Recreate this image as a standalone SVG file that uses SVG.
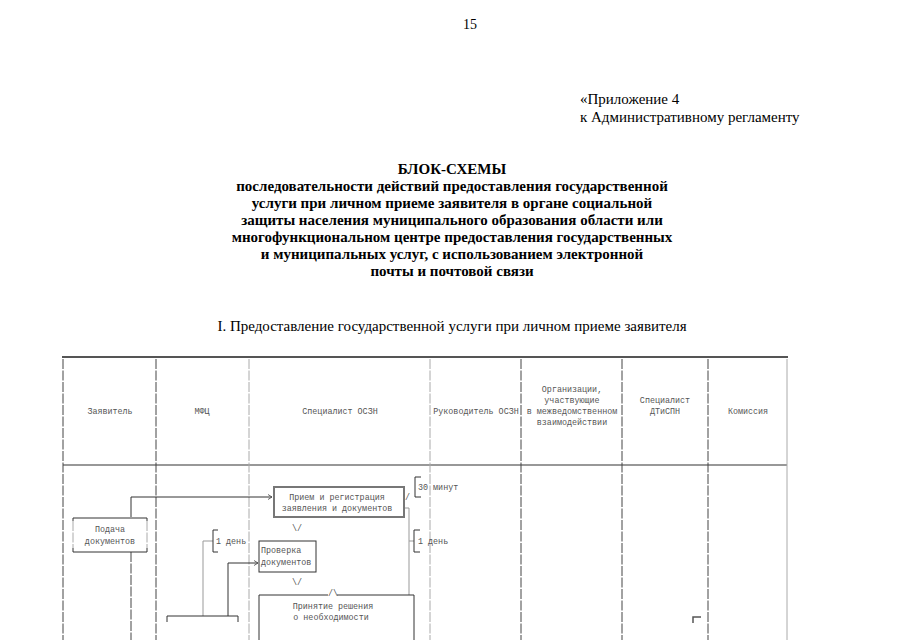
<svg xmlns="http://www.w3.org/2000/svg" width="905" height="640" viewBox="0 0 905 640">
<defs>
<style>
.serif{font-family:"Liberation Serif","Times New Roman",serif;fill:#000}
.t{font-family:"Liberation Serif","Times New Roman",serif;font-weight:bold;font-size:15px;text-anchor:middle;fill:#000}
.m{font-family:"Liberation Mono","Courier New",monospace;font-size:8.4px;fill:#555}
.mc{font-family:"Liberation Mono","Courier New",monospace;font-size:8.4px;fill:#555;text-anchor:middle}
.cd{stroke:#444;stroke-width:1;stroke-dasharray:10 1.5;fill:none}
.cl{stroke:#aaa;stroke-width:1;stroke-dasharray:10 1.5;fill:none}
.ln{stroke:#333;stroke-width:1;fill:none}
.lg{stroke:#999;stroke-width:1;fill:none}
.bx{stroke:#333;stroke-width:1;fill:none}
.bxg{stroke:#777;stroke-width:2;fill:none}
</style>
<marker id="ah" markerWidth="6" markerHeight="6" refX="5" refY="3" orient="auto" markerUnits="userSpaceOnUse">
<path d="M1,0.5 L5,3 L1,5.5" fill="none" stroke="#444" stroke-width="0.8"/>
</marker>
</defs>
<rect width="905" height="640" fill="#fff"/>

<text class="serif" x="470" y="29" font-size="14" text-anchor="middle">15</text>
<text class="serif" x="580" y="104" font-size="15">«Приложение 4</text>
<text class="serif" x="580" y="122" font-size="15">к Административному регламенту</text>

<text class="t" x="452" y="174">БЛОК-СХЕМЫ</text>
<text class="t" x="452" y="191">последовательности действий предоставления государственной</text>
<text class="t" x="452" y="208">услуги при личном приеме заявителя в органе социальной</text>
<text class="t" x="452" y="225">защиты населения муниципального образования области или</text>
<text class="t" x="452" y="242">многофункциональном центре предоставления государственных</text>
<text class="t" x="452" y="259">и муниципальных услуг, с использованием электронной</text>
<text class="t" x="452" y="276">почты и почтовой связи</text>

<text class="serif" x="452" y="331" font-size="15" text-anchor="middle">I. Предоставление государственной услуги при личном приеме заявителя</text>

<g id="table">
<line x1="62" y1="357" x2="788" y2="357" stroke="#555" stroke-width="2"/>
<line x1="63" y1="465" x2="787" y2="465" stroke="#333" stroke-width="1.2"/>
<line class="cd" x1="63" y1="359" x2="63" y2="640"/>
<line class="cd" x1="156" y1="359" x2="156" y2="640"/>
<line class="cl" x1="249" y1="359" x2="249" y2="640"/>
<line class="cl" x1="430" y1="359" x2="430" y2="640"/>
<line class="cd" x1="521" y1="359" x2="521" y2="640"/>
<line class="cd" x1="622" y1="359" x2="622" y2="640"/>
<line class="cd" x1="708" y1="359" x2="708" y2="640"/>
<line x1="787" y1="359" x2="787" y2="640" stroke="#aaa" stroke-width="1"/>
</g>

<g id="headers">
<text class="mc" x="110" y="414">Заявитель</text>
<text class="mc" x="202" y="414">МФЦ</text>
<text class="mc" x="340" y="414">Специалист ОСЗН</text>
<text class="mc" x="476" y="414">Руководитель ОСЗН</text>
<text class="mc" x="572" y="392">Организации,</text>
<text class="mc" x="572" y="403">участвующие</text>
<text class="mc" x="572" y="414">в межведомственном</text>
<text class="mc" x="572" y="425">взаимодействии</text>
<text class="mc" x="665" y="403">Специалист</text>
<text class="mc" x="665" y="414">ДТиСПН</text>
<text class="mc" x="748" y="414">Комиссия</text>
</g>

<g id="connectors">
<polyline class="ln" points="131,517 131,497 272,497" marker-end="url(#ah)"/>
<line class="cd" x1="131" y1="552" x2="131" y2="640"/>
<polyline class="lg" points="213,541 203,541 203,616"/>
<polyline class="ln" points="228,616 228,563 258,563" marker-end="url(#ah)"/>
<polyline class="lg" points="404,508 409,508 409,595"/>
<line class="lg" x1="409" y1="541" x2="414" y2="541"/>
<text class="mc" x="297" y="531">\/</text>
<text class="mc" x="297" y="585">\/</text>
<text class="m" x="405" y="500">/</text>
</g>

<g id="node-podacha">
<path class="ln" d="M73,521 V518 H147 V521 M73,548 V552 H147 V548"/>
<line class="cl" x1="73" y1="521" x2="73" y2="548" stroke-dasharray="6 2"/>
<line class="cl" x1="147" y1="521" x2="147" y2="548" stroke-dasharray="6 2"/>
<text class="mc" x="110" y="532">Подача</text>
<text class="mc" x="110" y="544">документов</text>
</g>

<g id="node-priem">
<rect class="bxg" x="274" y="487" width="130" height="30"/>
<text class="mc" x="337" y="500">Прием и регистрация</text>
<text class="mc" x="337" y="511">заявления и документов</text>
</g>

<g id="note-30min">
<path class="ln" d="M421,477 H415 V497 H421"/>
<text class="m" x="418" y="490">30 минут</text>
</g>

<g id="note-1day-mfc">
<path class="ln" d="M218,530 H213 V552 H218"/>
<text class="m" x="216" y="544">1 день</text>
</g>

<g id="note-1day-oszn">
<path class="ln" d="M420,530 H414 V552 H420"/>
<text class="m" x="418" y="544">1 день</text>
</g>

<g id="node-proverka">
<rect class="bx" x="259" y="541" width="57" height="31"/>
<text class="m" x="261" y="553">Проверка</text>
<text class="m" x="261" y="565">документов</text>
</g>

<g id="node-prinyatie">
<path class="bx" d="M259,640 V595 H328 M337,595 H414 V640"/>
<text class="mc" x="333" y="596">/\</text>
<text class="mc" x="333" y="609">Принятие решения</text>
<text class="mc" x="331" y="620">о необходимости</text>
</g>

<g id="node-mfc-bottom">
<path class="ln" d="M167,622 V616 H238 V622"/>
</g>

<g id="node-corner">
<path d="M693,623 V617 H701" stroke="#555" stroke-width="1.5" fill="none"/>
</g>
</svg>
